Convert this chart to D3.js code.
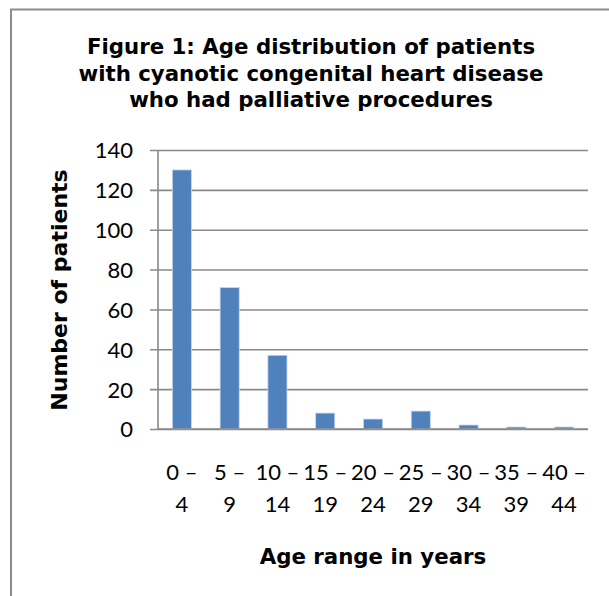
<!DOCTYPE html>
<html>
<head>
<meta charset="utf-8">
<script src="https://cdn.jsdelivr.net/npm/d3@7"></script>
<style>
  body { margin: 0; background: #fff; }
  svg { display: block; }
</style>
</head>
<body>
<svg id="chart" width="609" height="596"></svg>
<script>
// data
var ageStart = ["0", "5", "10", "15", "20", "25", "30", "35", "40"];
var ageEnd = ["4", "9", "14", "19", "24", "29", "34", "39", "44"];
var patients = [130, 71, 37, 8, 5, 9, 2, 1, 1];
var yTicks = [0, 20, 40, 60, 80, 100, 120, 140];
var titleLines = [
    "Figure 1: Age distribution of patients",
    "with cyanotic congenital heart disease",
    "who had palliative procedures"
];

var svg = d3.select("#chart");
var plot = {left: 158, right: 588, top: 150, bottom: 429};
var gridColor = "#898989";
var titleFont = "'DejaVu Sans', sans-serif";
var tickFont = "Lato, 'Open Sans', sans-serif";

// outer frame (runs off the right and bottom edge)
svg.append("rect")
    .attr("x", 11).attr("y", 9.5)
    .attr("width", 620).attr("height", 620)
    .attr("fill", "none")
    .attr("stroke", "#8c8c8c")
    .attr("stroke-width", 2);

var x = d3.scaleBand()
    .domain(ageStart)
    .range([plot.left, plot.right])
    .paddingInner(0.6)
    .paddingOuter(0.3);

var y = d3.scaleLinear()
    .domain([0, 140])
    .range([plot.bottom, plot.top]);

// title
svg.append("g").selectAll("text")
    .data(titleLines)
    .enter().append("text")
    .attr("x", 311)
    .attr("y", function(d, i) { return 54 + i * 26.5; })
    .attr("text-anchor", "middle")
    .style("font-family", titleFont)
    .style("font-weight", "bold")
    .style("font-size", "21.3px")
    .text(function(d) { return d; });

// gridlines + y ticks
var yAxis = d3.axisLeft(y)
    .tickValues(yTicks)
    .tickSize(-(plot.right - plot.left))
    .tickPadding(0);

var gy = svg.append("g")
    .attr("transform", "translate(" + plot.left + ",0)")
    .call(yAxis);
gy.select(".domain").remove();
gy.selectAll(".tick line")
    .attr("x1", -8)
    .attr("stroke", gridColor)
    .attr("stroke-width", 1.6);
gy.selectAll(".tick text")
    .attr("x", -25)
    .attr("dy", "0.36em")
    .attr("fill", "#000")
    .style("font-family", tickFont)
    .style("font-size", "22px");

// vertical axis line
svg.append("line")
    .attr("x1", plot.left).attr("x2", plot.left)
    .attr("y1", y(140)).attr("y2", y(0))
    .attr("stroke", gridColor)
    .attr("stroke-width", 1.6);

// bars
svg.append("g").selectAll("rect")
    .data(patients)
    .enter().append("rect")
    .attr("x", function(d, i) { return x(ageStart[i]); })
    .attr("y", function(d) { return y(d); })
    .attr("width", x.bandwidth())
    .attr("height", function(d) { return y(0) - y(d); })
    .attr("fill", "#4f81bd")
    .attr("stroke", "#c9d9ee")
    .attr("stroke-width", 0.8);

// baseline redrawn on top of bars
svg.append("line")
    .attr("x1", plot.left).attr("x2", plot.right)
    .attr("y1", y(0)).attr("y2", y(0))
    .attr("stroke", gridColor)
    .attr("stroke-width", 1.6);

// x labels, wrapped on two lines
var xl = svg.append("g").selectAll("text")
    .data(ageStart)
    .enter().append("text")
    .attr("text-anchor", "middle")
    .style("font-family", tickFont)
    .style("font-size", "22px");
xl.append("tspan")
    .attr("x", function(d) { return x(d) + x.bandwidth() / 2; })
    .attr("y", 480)
    .text(function(d) { return d + " \u2013"; });
xl.append("tspan")
    .attr("x", function(d) { return x(d) + x.bandwidth() / 2; })
    .attr("y", 512)
    .text(function(d, i) { return ageEnd[i]; });

// axis titles
svg.append("text")
    .attr("x", (plot.left + plot.right) / 2)
    .attr("y", 564)
    .attr("text-anchor", "middle")
    .style("font-family", titleFont)
    .style("font-weight", "bold")
    .style("font-size", "21.3px")
    .text("Age range in years");

svg.append("text")
    .attr("transform", "translate(67," + ((plot.top + plot.bottom) / 2 + 0.5) + ") rotate(-90)")
    .attr("text-anchor", "middle")
    .style("font-family", titleFont)
    .style("font-weight", "bold")
    .style("font-size", "22px")
    .text("Number of patients");
</script>
</body>
</html>
